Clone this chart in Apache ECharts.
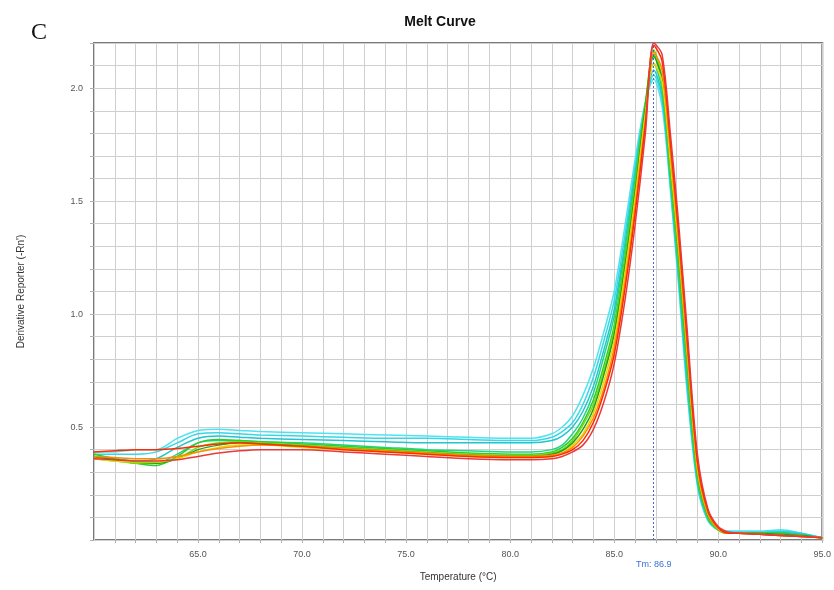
<!DOCTYPE html>
<html>
<head>
<meta charset="utf-8">
<title>Melt Curve</title>
<script src="https://cdn.jsdelivr.net/npm/echarts@6/dist/echarts.min.js"></script>
<style>
    html, body { margin: 0; padding: 0; background: #fff; }
    #meltChart { width: 834px; height: 590px; }
</style>
</head>
<body>
<div id="meltChart"></div>
<script>
// temperatures (°C) at which the curves are read
var temps = [60, 61, 62, 63, 64, 65, 66, 67, 68, 70, 72, 74, 76, 78, 80, 81, 82, 82.5, 83, 83.5,
             84, 84.5, 85, 85.5, 86, 86.5, 86.9, 87.3, 87.7, 88.1, 88.5, 89, 89.5, 90, 90.5, 91, 92, 93, 94, 95];

// derivative reporter values, one array per well
var cyan1 = [0.39, 0.39, 0.40, 0.40, 0.45, 0.485, 0.49, 0.485, 0.48, 0.475, 0.47, 0.465, 0.46, 0.455, 0.45, 0.45, 0.47, 0.50,
             0.55, 0.64, 0.76, 0.92, 1.10, 1.38, 1.68, 1.94, 2.04, 1.92, 1.55, 1.12, 0.66, 0.24, 0.085, 0.045,
             0.04, 0.04, 0.04, 0.045, 0.03, 0.01];
var cyan2 = [0.38, 0.38, 0.38, 0.39, 0.43, 0.47, 0.475, 0.47, 0.465, 0.46, 0.455, 0.45, 0.45, 0.445, 0.44, 0.44, 0.455, 0.48,
             0.52, 0.60, 0.72, 0.88, 1.06, 1.34, 1.65, 1.93, 2.06, 1.95, 1.57, 1.15, 0.69, 0.25, 0.09, 0.045,
             0.035, 0.035, 0.035, 0.04, 0.03, 0.01];
var cyan3 = [0.37, 0.36, 0.35, 0.36, 0.41, 0.45, 0.46, 0.455, 0.45, 0.445, 0.44, 0.435, 0.43, 0.43, 0.43, 0.43, 0.44, 0.46,
             0.50, 0.57, 0.68, 0.84, 1.02, 1.30, 1.62, 1.92, 2.08, 1.97, 1.59, 1.17, 0.71, 0.26, 0.095, 0.045,
             0.035, 0.03, 0.03, 0.035, 0.025, 0.01];
var teal = [0.37, 0.36, 0.34, 0.34, 0.38, 0.43, 0.44, 0.44, 0.435, 0.43, 0.42, 0.41, 0.40, 0.395, 0.39, 0.39, 0.40, 0.42,
            0.47, 0.54, 0.65, 0.81, 0.99, 1.28, 1.60, 1.93, 2.11, 1.99, 1.60, 1.19, 0.74, 0.27, 0.10, 0.045,
            0.03, 0.03, 0.03, 0.03, 0.02, 0.01];
var green1 = [0.38, 0.36, 0.34, 0.33, 0.37, 0.43, 0.445, 0.44, 0.435, 0.425, 0.415, 0.405, 0.395, 0.385, 0.38, 0.38, 0.39, 0.41,
              0.45, 0.52, 0.62, 0.77, 0.95, 1.24, 1.57, 1.93, 2.15, 2.02, 1.62, 1.22, 0.77, 0.28, 0.10, 0.045,
              0.03, 0.03, 0.03, 0.03, 0.02, 0.01];
var green2 = [0.36, 0.35, 0.34, 0.34, 0.36, 0.41, 0.43, 0.435, 0.43, 0.42, 0.41, 0.40, 0.39, 0.38, 0.375, 0.375, 0.385, 0.40,
              0.44, 0.51, 0.60, 0.75, 0.93, 1.22, 1.56, 1.93, 2.17, 2.04, 1.64, 1.24, 0.79, 0.29, 0.105, 0.045,
              0.03, 0.03, 0.03, 0.025, 0.02, 0.01];
var green3 = [0.37, 0.355, 0.345, 0.34, 0.36, 0.40, 0.42, 0.43, 0.425, 0.415, 0.405, 0.395, 0.385, 0.375, 0.37, 0.37, 0.38, 0.395,
              0.43, 0.49, 0.58, 0.73, 0.91, 1.20, 1.54, 1.92, 2.14, 2.04, 1.66, 1.26, 0.81, 0.30, 0.11, 0.05,
              0.03, 0.03, 0.03, 0.025, 0.02, 0.01];
var yellow = [0.36, 0.35, 0.345, 0.345, 0.36, 0.39, 0.41, 0.42, 0.42, 0.41, 0.40, 0.39, 0.38, 0.37, 0.365, 0.365, 0.37, 0.385,
              0.42, 0.47, 0.56, 0.70, 0.88, 1.17, 1.51, 1.89, 2.11, 2.03, 1.67, 1.28, 0.83, 0.31, 0.115, 0.05,
              0.03, 0.03, 0.025, 0.02, 0.015, 0.01];
var orange = [0.37, 0.365, 0.36, 0.36, 0.37, 0.39, 0.405, 0.415, 0.42, 0.415, 0.405, 0.395, 0.385, 0.375, 0.37, 0.37, 0.375, 0.385,
              0.41, 0.46, 0.54, 0.67, 0.85, 1.13, 1.47, 1.86, 2.16, 2.08, 1.72, 1.32, 0.86, 0.33, 0.12, 0.05,
              0.03, 0.03, 0.025, 0.02, 0.015, 0.01];
var red1 = [0.39, 0.395, 0.40, 0.40, 0.405, 0.415, 0.425, 0.43, 0.425, 0.415, 0.40, 0.39, 0.38, 0.37, 0.365, 0.365, 0.37, 0.38,
            0.40, 0.44, 0.52, 0.65, 0.82, 1.10, 1.44, 1.84, 2.19, 2.12, 1.76, 1.36, 0.90, 0.35, 0.13, 0.055,
            0.03, 0.03, 0.025, 0.02, 0.015, 0.01];
var red2 = [0.36, 0.355, 0.35, 0.35, 0.355, 0.37, 0.385, 0.395, 0.40, 0.40, 0.39, 0.38, 0.37, 0.36, 0.355, 0.355, 0.36, 0.37,
            0.39, 0.42, 0.49, 0.61, 0.78, 1.05, 1.39, 1.80, 2.20, 2.15, 1.80, 1.40, 0.94, 0.38, 0.14, 0.06,
            0.035, 0.03, 0.025, 0.02, 0.015, 0.01];

var wells = [cyan1, cyan2, cyan3, teal, green1, green2, green3, yellow, orange, red1, red2];
var wellColors = ['#4fe3f0', '#38d6e6', '#1fc6cc', '#22d48a', '#2ecc2e', '#6edd12', '#20a020', '#e6d800', '#ff8c00', '#ff2a00', '#e83a3a'];

var tmValue = 86.9;

var meltChart = echarts.init(document.getElementById('meltChart'));

function isStep(v, step) {
    var k = v / step;
    return Math.abs(k - Math.round(k)) < 1e-6;
}

var seriesList = [];
for (var i = 0; i < wells.length; i++) {
    var pts = [];
    for (var j = 0; j < temps.length; j++) {
        pts.push([temps[j], wells[i][j]]);
    }
    seriesList.push({
        name: 'well' + (i + 1),
        type: 'line',
        data: pts,
        smooth: 0.3,
        showSymbol: false,
        lineStyle: { width: 1.5, color: wellColors[i] },
        itemStyle: { color: wellColors[i] }
    });
}

// Tm marker
seriesList[0].markLine = {
    silent: true,
    symbol: 'none',
    lineStyle: { color: '#4a66c8', type: [2, 2], width: 1 },
    label: {
        position: 'start',
        distance: 20,
        color: '#3a6fd8',
        fontSize: 9,
        fontFamily: 'Liberation Sans',
        formatter: 'Tm: ' + tmValue.toFixed(1)
    },
    data: [{ xAxis: tmValue }]
};

var meltOption = {
    animation: false,
    backgroundColor: '#fff',
    title: [{
        text: 'Melt Curve',
        left: 435,
        top: 10,
        textAlign: 'center',
        textStyle: { fontSize: 14, fontWeight: 'bold', color: '#111', fontFamily: 'Liberation Sans' }
    }, {
        text: 'C',
        left: 26,
        top: 16,
        textStyle: { fontSize: 24, fontWeight: 'normal', color: '#111', fontFamily: 'Liberation Serif' }
    }],
    grid: {
        left: 94,
        right: 11,
        top: 43,
        bottom: 50,
        show: true,
        borderColor: '#7a7a7a',
        borderWidth: 2,
        backgroundColor: '#fff'
    },
    xAxis: {
        type: 'value',
        min: 60,
        max: 95,
        interval: 1,
        name: 'Temperature (°C)',
        nameLocation: 'middle',
        nameGap: 32,
        nameTextStyle: { fontSize: 10, color: '#333', fontFamily: 'Liberation Sans' },
        axisLine: { show: false },
        axisTick: { show: true, length: 3, lineStyle: { color: '#b0b0b0' } },
        axisLabel: {
            fontSize: 9,
            color: '#555',
            margin: 10,
            fontFamily: 'Liberation Sans',
            showMinLabel: false,
            formatter: function (v) {
                return (isStep(v, 5) && v > 60) ? v.toFixed(1) : '';
            }
        },
        splitLine: { show: true, lineStyle: { color: '#cfcfcf', width: 1 } }
    },
    yAxis: {
        type: 'value',
        min: 0,
        max: 2.2,
        interval: 0.1,
        name: "Derivative Reporter (-Rn')",
        nameLocation: 'middle',
        nameGap: 68,
        nameTextStyle: { fontSize: 10, color: '#333', fontFamily: 'Liberation Sans' },
        axisLine: { show: false },
        axisTick: { show: true, length: 4, lineStyle: { color: '#b0b0b0' } },
        axisLabel: {
            fontSize: 9,
            color: '#555',
            margin: 11,
            fontFamily: 'Liberation Sans',
            formatter: function (v) {
                return (isStep(v, 0.5) && v > 0) ? v.toFixed(1) : '';
            }
        },
        splitLine: { show: true, lineStyle: { color: '#cfcfcf', width: 1 } }
    },
    series: seriesList
};

meltChart.setOption(meltOption);
</script>
</body>
</html>
